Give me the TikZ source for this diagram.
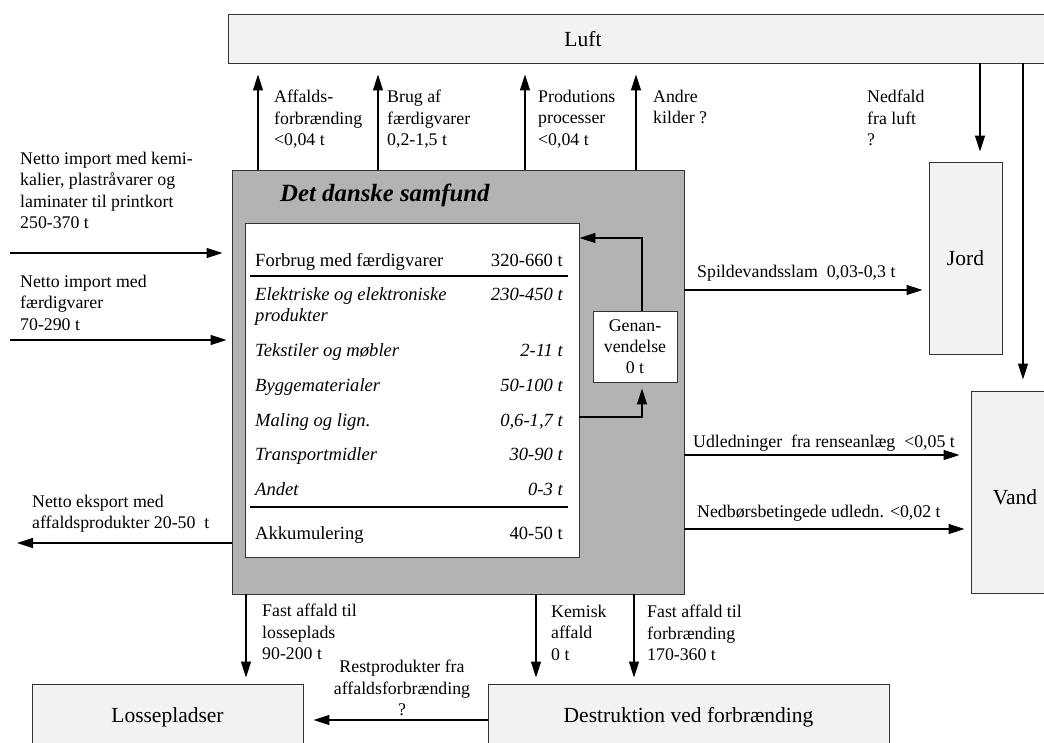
\documentclass[tikz,border=0pt]{standalone}
\usepackage{fontspec}
\setmainfont{Liberation Serif}
\usetikzlibrary{arrows.meta}
\definecolor{boxgray}{HTML}{F2F2F2}
\definecolor{maingray}{HTML}{B3B3B3}
\newcommand{\lblfont}{\fontsize{17.8}{21.3}\selectfont}
\newcommand{\tabfont}{\fontsize{18.6}{22}\selectfont}
\newcommand{\boxfont}{\fontsize{21.5}{25}\selectfont}
\newcommand{\titlefont}{\fontsize{24.8}{29}\selectfont\bfseries\itshape}
\begin{document}
\begin{tikzpicture}[x=1pt,y=-1pt,
  arr/.style={-{Triangle[length=16pt,width=10pt]}, line width=1.3pt},
  env/.style={draw=black!80, line width=0.9pt, fill=boxgray, inner sep=0, font=\boxfont},
  lbl/.style={font=\lblfont, align=left, inner sep=0, anchor=north west},
  tl/.style={font=\tabfont, inner sep=0, anchor=base west},
  tr/.style={font=\tabfont, inner sep=0, anchor=base east},
  rule/.style={line width=2.5pt}
]
\clip (0,0) rectangle (1044,742);
% environment boxes
\node[env, minimum width=872pt, minimum height=49pt] (luft) at (664,38.5) {};
\node[font=\boxfont, inner sep=0] (lufttxt) at (583,39) {Luft};
\node[env, minimum width=73pt, minimum height=192pt] (jord) at (965.5,258) {Jord};
\node[env, minimum width=129pt, minimum height=202pt] (vand) at (1035.5,492) {};
\node[font=\boxfont, inner sep=0] (vandtxt) at (1015,497) {Vand};
\node[env, minimum width=271pt, minimum height=66pt] (loss) at (167.5,717) {Lossepladser};
\node[env, minimum width=401pt, minimum height=66pt] (dest) at (688.5,717) {Destruktion ved forbrænding};
% society
\node[draw=black!80, line width=0.9pt, fill=maingray, minimum width=452pt, minimum height=424pt, inner sep=0] (main) at (458,382) {};
\node[font=\titlefont, anchor=west, inner sep=0] (title) at (280,195) {Det danske samfund};
\node[draw=black!80, line width=0.9pt, fill=white, minimum width=334pt, minimum height=334pt, inner sep=0] (inner) at (412,390) {};
\node[draw=black!80, line width=0.9pt, fill=white, minimum width=84pt, minimum height=71pt, inner sep=0, align=center, font=\lblfont] (gen) at (635,346.5) {Genan-\\vendelse\\0 t};
% table
\node[tl] (r0l) at (255,266) {Forbrug med færdigvarer};
\node[tr] (r0r) at (563,266) {320-660 t};
\draw[rule] (250,276) -- (568,276);
\node[tl] (r1l) at (255,300) {\itshape Elektriske og elektroniske};
\node[tl] (r1m) at (255,321) {\itshape produkter};
\node[tr] (r1r) at (563,300) {\itshape 230-450 t};
\node[tl] (r2l) at (255,356) {\itshape Tekstiler og møbler};
\node[tr] (r2r) at (563,356) {\itshape 2-11 t};
\node[tl] (r3l) at (255,391) {\itshape Byggematerialer};
\node[tr] (r3r) at (563,391) {\itshape 50-100 t};
\node[tl] (r4l) at (255,426) {\itshape Maling og lign.};
\node[tr] (r4r) at (563,426) {\itshape 0,6-1,7 t};
\node[tl] (r5l) at (255,460) {\itshape Transportmidler};
\node[tr] (r5r) at (563,460) {\itshape 30-90 t};
\node[tl] (r6l) at (255,495) {\itshape Andet};
\node[tr] (r6r) at (563,495) {\itshape 0-3 t};
\draw[rule] (250,507) -- (568,507);
\node[tl] (r7l) at (255,539) {Akkumulering};
\node[tr] (r7r) at (563,539) {40-50 t};
% labels
\node[lbl] (la) at (274,90) {Affalds-\\forbrænding\\<0,04 t};
\node[lbl] (lb) at (387,90) {Brug af\\færdigvarer\\0,2-1,5 t};
\node[lbl] (lc) at (538,90) {Produtions\\processer\\<0,04 t};
\node[lbl] (ld) at (653,90) {Andre\\kilder ?};
\node[lbl] (ln) at (867,90) {Nedfald\\fra luft\\?};
\node[lbl] (li1) at (20,152) {Netto import med kemi-\\kalier, plastråvarer og\\laminater til printkort\\250-370 t};
\node[lbl] (li2) at (20,275) {Netto import med\\færdigvarer\\70-290 t};
\node[lbl] (lex) at (32,495) {Netto eksport med\\affaldsprodukter 20-50\ \ t};
\node[lbl] (lsp) at (697,265) {Spildevandsslam\ \ 0,03-0,3 t};
\node[lbl] (lud) at (693,435) {Udledninger\ \ fra renseanlæg\ \ <0,05 t};
\node[lbl] (lnb) at (697,505) {Nedbørsbetingede udledn. <0,02 t};
\node[lbl] (lb1) at (262,604) {Fast affald til\\losseplads\\90-200 t};
\node[lbl] (lb2) at (551,605) {Kemisk\\affald\\0 t};
\node[lbl] (lb3) at (647,605) {Fast affald til\\forbrænding\\170-360 t};
\node[font=\lblfont, align=center, inner sep=0, anchor=north] (lrest) at (402,660) {Restprodukter fra\\affaldsforbrænding\\?};
% coordinates
\coordinate (xa) at (258,0);
\coordinate (xb) at (378,0);
\coordinate (xc) at (525,0);
\coordinate (xd) at (636,0);
\coordinate (xj) at (980,0);
\coordinate (xv) at (1023,0);
\coordinate (xb1) at (246,0);
\coordinate (xb2) at (536,0);
\coordinate (xb3) at (634,0);
\coordinate (gx) at (642,0);
\coordinate (in1) at (10,253);
\coordinate (in2) at (10,340);
\coordinate (ex) at (17,543);
\coordinate (ysp) at (0,290);
\coordinate (yud) at (0,455);
\coordinate (ynb) at (0,529);
\coordinate (yr) at (0,720);
\coordinate (ygr) at (0,417);
\coordinate (ygt) at (0,238);
% arrows
\draw[arr, shorten >=11pt] (main.north -| xa) -- (luft.south -| xa);
\draw[arr, shorten >=11pt] (main.north -| xb) -- (luft.south -| xb);
\draw[arr, shorten >=11pt] (main.north -| xc) -- (luft.south -| xc);
\draw[arr, shorten >=11pt] (main.north -| xd) -- (luft.south -| xd);
\draw[arr, shorten >=10pt] (luft.south -| xj) -- (jord.north -| xj);
\draw[arr, shorten >=11pt] (luft.south -| xv) -- (vand.north -| xv);
\draw[arr, shorten >=9pt] (in1) -- (in1 -| main.west);
\draw[arr, shorten >=5pt] (in2) -- (in2 -| main.west);
\draw[arr] (ex -| main.west) -- (ex);
\draw[arr, shorten >=6pt] (main.east |- ysp) -- (jord.west |- ysp);
\draw[arr, shorten >=11pt] (main.east |- yud) -- (vand.west |- yud);
\draw[arr, shorten >=6pt] (main.east |- ynb) -- (vand.west |- ynb);
\draw[arr, shorten >=6pt] (main.south -| xb1) -- (loss.north -| xb1);
\draw[arr, shorten >=6pt] (main.south -| xb2) -- (dest.north -| xb2);
\draw[arr, shorten >=6pt] (main.south -| xb3) -- (dest.north -| xb3);
\draw[arr, shorten >=10pt] (dest.west |- yr) -- (loss.east |- yr);
\draw[arr, shorten >=6pt] (inner.east |- ygr) -| (gen.south -| gx);
\draw[arr] (gen.north -| gx) |- (inner.east |- ygt);
\end{tikzpicture}
\end{document}
